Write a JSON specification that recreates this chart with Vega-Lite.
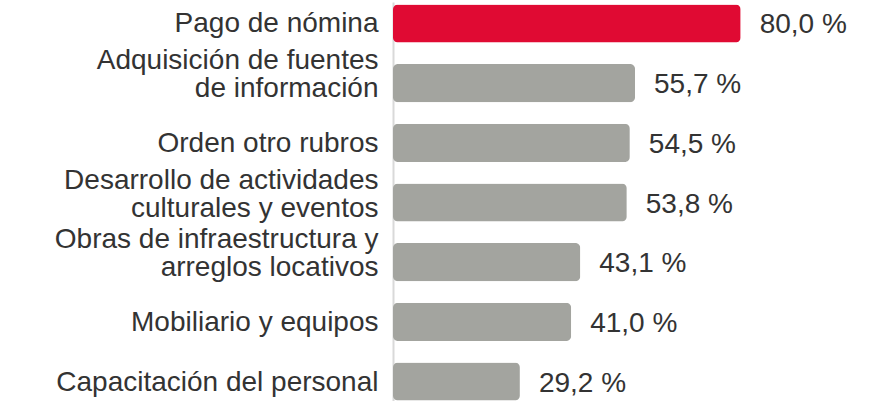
{
  "$schema": "https://vega.github.io/schema/vega-lite/v6.json",
  "width": 478,
  "height": 401,
  "autosize": {"type": "none"},
  "padding": {"left": 393, "top": 2, "right": 0, "bottom": 0},
  "background": "white",
  "data": {
    "values": [
      {"cat": "Pago de nómina", "v": 80.0, "lbl": "80,0 %", "hl": "y"},
      {"cat": "Adquisición de fuentes|de información", "v": 55.7, "lbl": "55,7 %", "hl": "n"},
      {"cat": "Orden otro rubros", "v": 54.5, "lbl": "54,5 %", "hl": "n"},
      {"cat": "Desarrollo de actividades|culturales y eventos", "v": 53.8, "lbl": "53,8 %", "hl": "n"},
      {"cat": "Obras de infraestructura y|arreglos locativos", "v": 43.1, "lbl": "43,1 %", "hl": "n"},
      {"cat": "Mobiliario y equipos", "v": 41.0, "lbl": "41,0 %", "hl": "n"},
      {"cat": "Capacitación del personal", "v": 29.2, "lbl": "29,2 %", "hl": "n"}
    ]
  },
  "encoding": {
    "y": {
      "field": "cat", "type": "nominal", "sort": null,
      "scale": {"paddingInner": 0.36, "paddingOuter": 0.04},
      "axis": {
        "title": null, "ticks": false, "domain": true, "domainColor": "#d9d9d9", "domainWidth": 2,
        "labelExpr": "split(datum.label, '|')",
        "labelFont": "Liberation Sans", "labelFontSize": 28, "labelColor": "#333333",
        "labelPadding": 15, "labelLineHeight": 28, "labelLimit": 400,
        "labelOffset": {"condition": {"test": "indexof(datum.value, '|') >= 0", "value": -22}, "value": 1}
      }
    },
    "x": {
      "field": "v", "type": "quantitative",
      "scale": {"domain": [0, 110]},
      "axis": null
    }
  },
  "layer": [
    {
      "mark": {"type": "bar", "cornerRadius": 5},
      "encoding": {
        "color": {
          "field": "hl", "type": "nominal",
          "scale": {"domain": ["y", "n"], "range": ["#E00A33", "#A3A49F"]},
          "legend": null
        }
      }
    },
    {
      "mark": {"type": "text", "align": "left", "dx": 19, "dy": 2, "font": "Liberation Sans", "fontSize": 28, "color": "#333333", "baseline": "middle"},
      "encoding": {"text": {"field": "lbl"}}
    }
  ],
  "config": {"view": {"stroke": null}}
}
